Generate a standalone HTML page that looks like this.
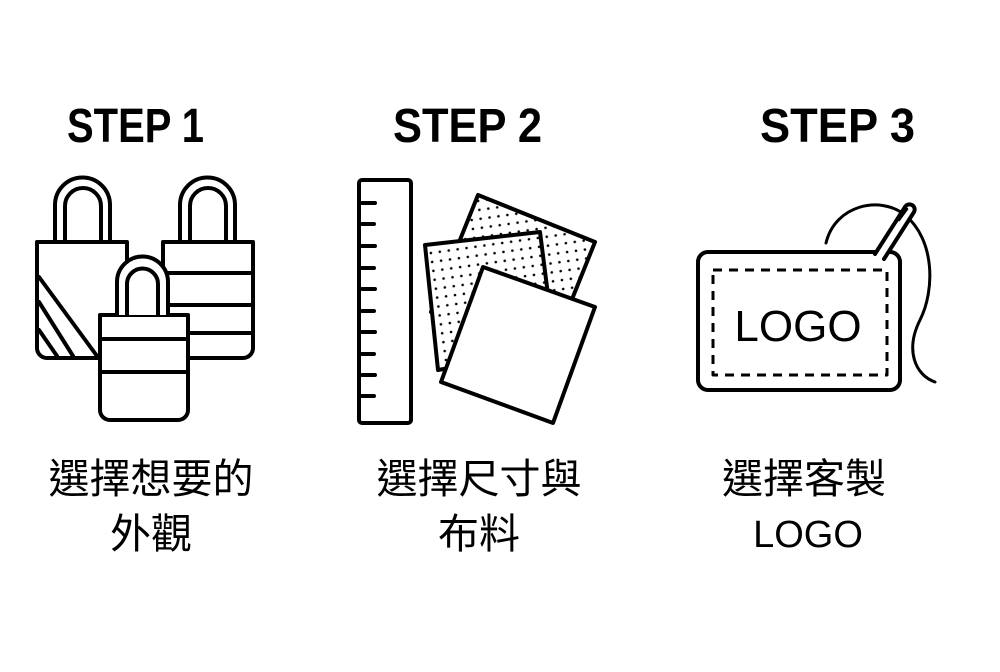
<!DOCTYPE html>
<html><head><meta charset="utf-8"><style>
html,body{margin:0;padding:0;background:#fff;}
body{width:1000px;height:667px;overflow:hidden;}
</style></head><body>
<svg width="1000" height="667" viewBox="0 0 1000 667" xmlns="http://www.w3.org/2000/svg">
<defs>
<pattern id="dots" width="9" height="9" patternUnits="userSpaceOnUse" patternTransform="rotate(-8)">
<circle cx="4.5" cy="4.5" r="1.3" fill="#000"/>
</pattern>
</defs>
<g font-family="Liberation Sans, sans-serif" font-weight="bold" font-size="48" fill="#000">
<text x="67" y="142" textLength="137" lengthAdjust="spacingAndGlyphs">STEP 1</text>
<text x="393" y="142" textLength="149" lengthAdjust="spacingAndGlyphs">STEP 2</text>
<text x="760" y="142" textLength="155" lengthAdjust="spacingAndGlyphs">STEP 3</text>
</g>
<g fill="none" stroke="#000" stroke-width="4" stroke-linejoin="round" stroke-linecap="round">
<!-- left bag -->
<path d="M55 242 V205 A27.5 27.5 0 0 1 110 205 V242"/>
<path d="M65 242 V206 A18 18 0 0 1 101 206 V242"/>
<path d="M37 242 H127 V348 A10 10 0 0 1 117 358 H47 A10 10 0 0 1 37 348 Z" fill="#fff"/>
<path d="M39 277 L97 356 M39 302 L73 356 M39 330 L57 356"/>
<!-- right bag -->
<path d="M180 242 V205 A27.5 27.5 0 0 1 235 205 V242"/>
<path d="M190 242 V206 A18 18 0 0 1 226 206 V242"/>
<path d="M163 242 H253 V348 A10 10 0 0 1 243 358 H173 A10 10 0 0 1 163 348 Z" fill="#fff"/>
<path d="M163 273 H253 M163 305 H253 M163 333 H253"/>
<!-- middle bag -->
<path d="M100 315 H188 V410 A10 10 0 0 1 178 420 H110 A10 10 0 0 1 100 410 Z" fill="#fff"/>
<path d="M117 315 V282 A25.5 25.5 0 0 1 168 282 V315" fill="#fff"/>
<path d="M127 315 V284 A15.5 15.5 0 0 1 158 284 V315"/>
<path d="M100 339 H188 M100 372 H188"/>
<!-- ruler -->
<rect x="359" y="180" width="52" height="243" rx="3" fill="#fff"/>
<path d="M362 203 H375 M362 224 H374 M362 246 H375 M362 268 H374 M362 289 H375 M362 311 H374 M362 332 H375 M362 354 H374 M362 375 H375 M362 396 H374"/>
<!-- squares -->
<polygon points="478,195 595,242 548,359 431,312" fill="#fff" stroke="none"/>
<polygon points="478,195 595,242 548,359 431,312" fill="url(#dots)"/>
<polygon points="425,245 540,232 555,350 438,370" fill="#fff" stroke="none"/>
<polygon points="425,245 540,232 555,350 438,370" fill="url(#dots)"/>
<polygon points="483,267 595,307 553,423 441,382" fill="#fff"/>
<!-- patch -->
<path d="M826 243 C 835 205, 880 195, 905 215" stroke-width="3"/>
<path d="M905 215 C 935 240, 935 290, 920 320 C 905 350, 915 375, 935 382" stroke-width="3"/>
<rect x="698" y="252" width="202" height="138" rx="10" fill="#fff"/>
<path d="M875 254 L905 207 A5 5 0 0 1 914 212 L884 259" fill="#fff"/>
<path d="M899 220 L907 209" stroke-width="2.5"/>
<rect x="713" y="270" width="174" height="105" stroke-width="3" stroke-dasharray="9,7" stroke-linecap="butt"/>
</g>
<text x="798" y="341" font-family="Liberation Sans, sans-serif" font-size="44" text-anchor="middle" fill="#000">LOGO</text>
<g font-family="'Liberation Sans','Noto Sans CJK TC',sans-serif" font-size="41" fill="#000" text-anchor="middle">
<text x="151" y="493">選擇想要的</text>
<text x="151" y="548">外觀</text>
<text x="479" y="493">選擇尺寸與</text>
<text x="479" y="548">布料</text>
<text x="804" y="493">選擇客製</text>
<text x="808" y="547" font-size="38">LOGO</text>
</g>
</svg>
</body></html>
